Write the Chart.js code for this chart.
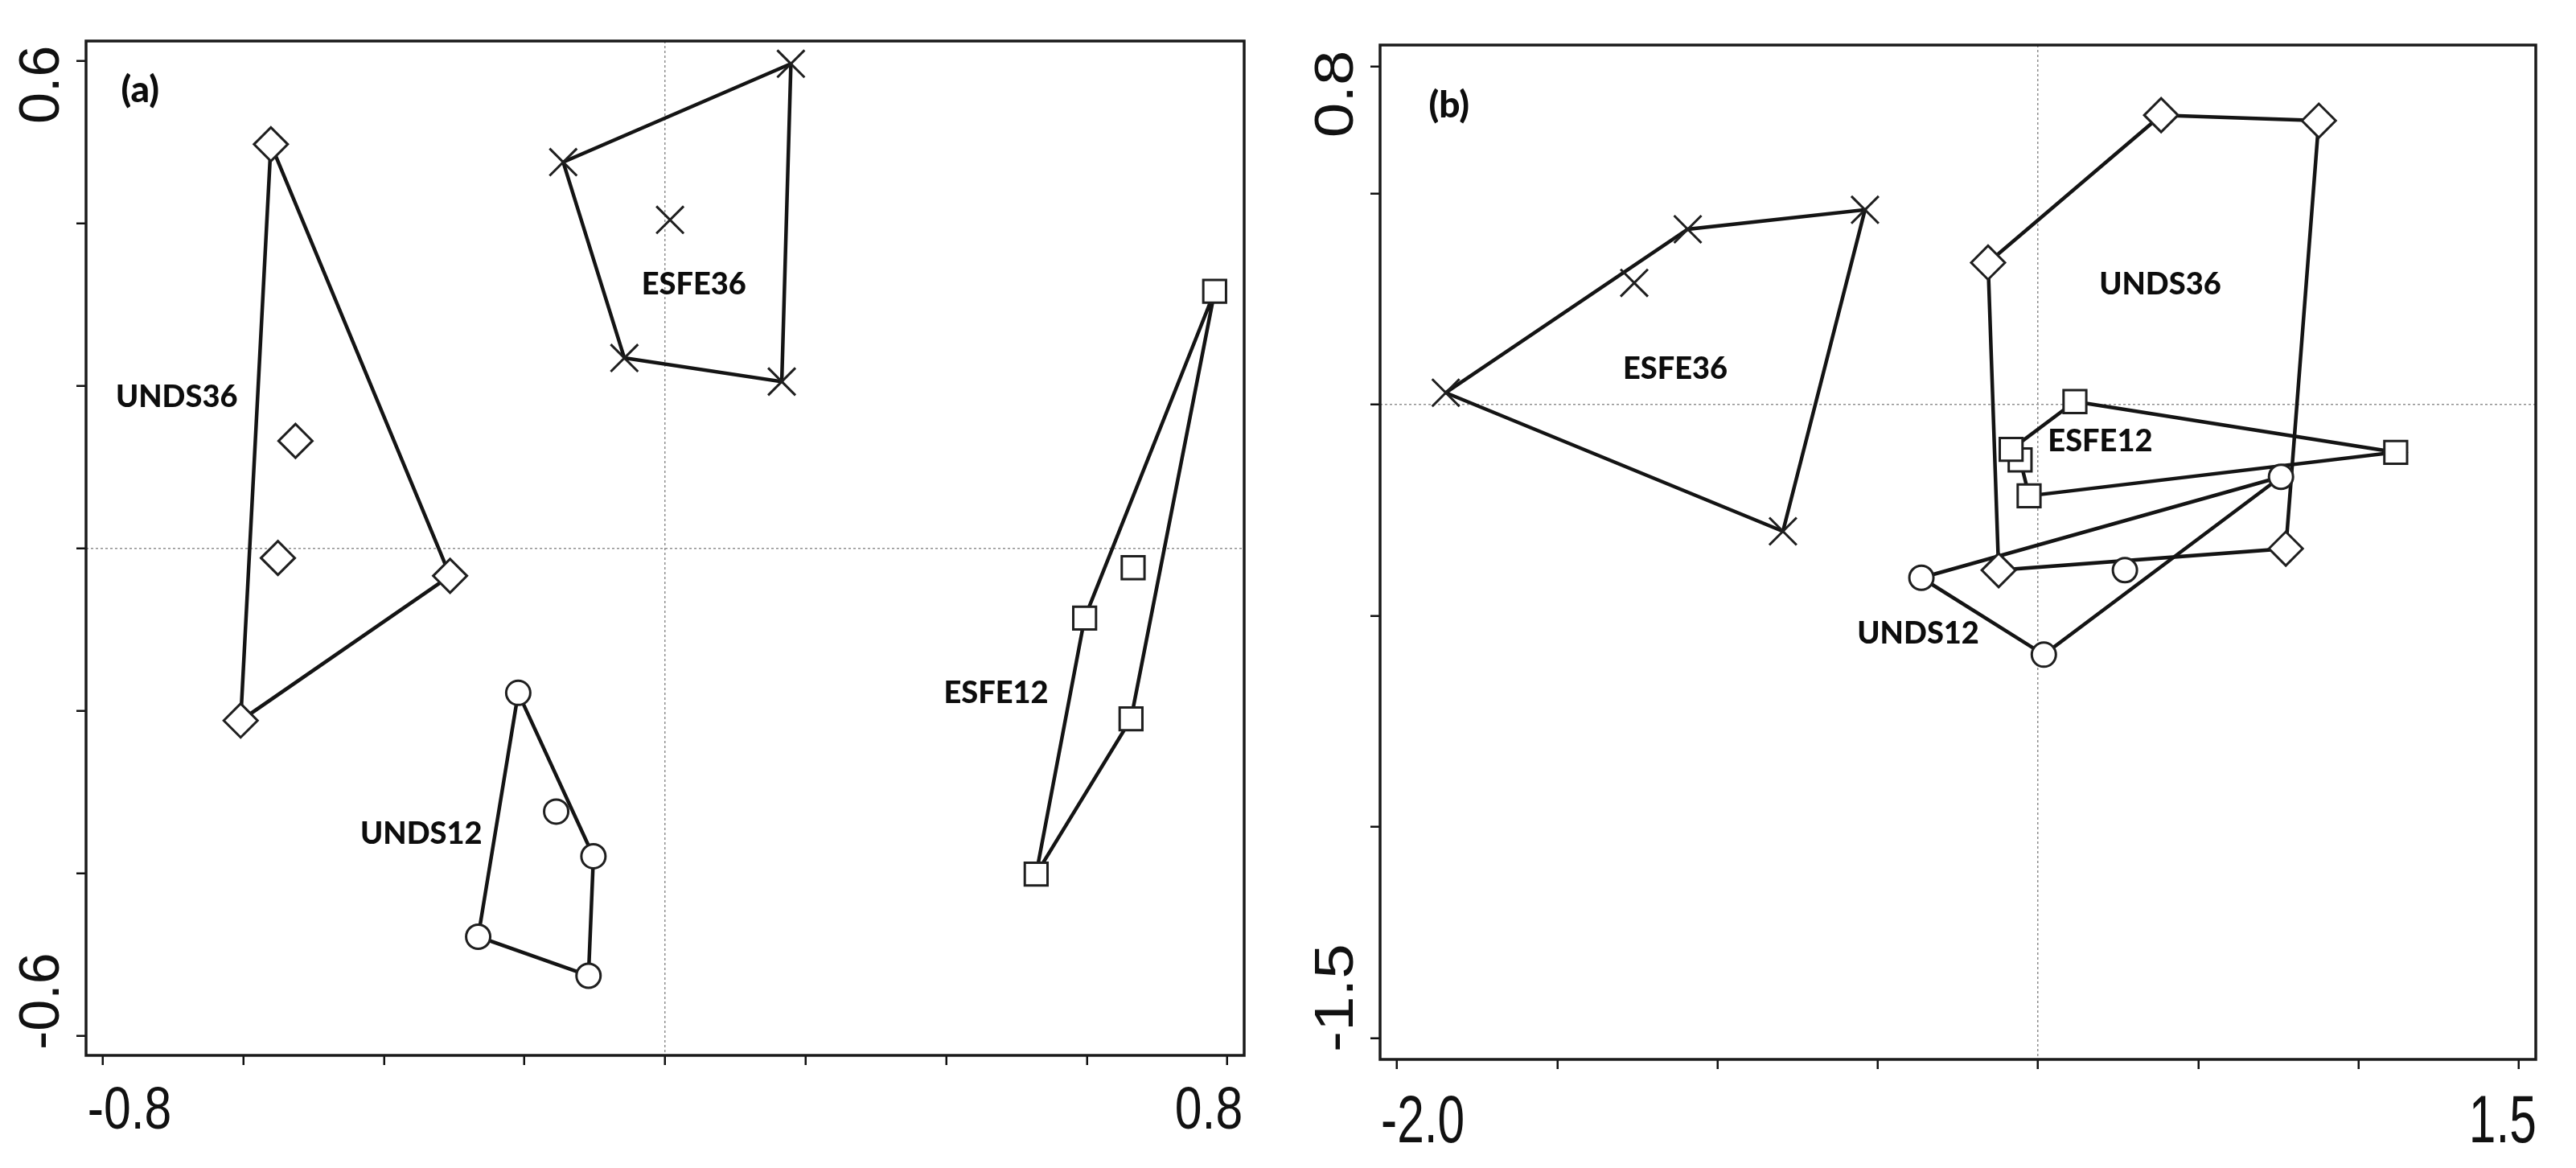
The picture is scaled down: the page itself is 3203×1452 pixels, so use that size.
<!DOCTYPE html>
<html>
<head>
<meta charset="utf-8">
<script src="https://cdn.jsdelivr.net/npm/chart.js@4.4.0/dist/chart.umd.min.js"></script>
<style>
  html, body { margin: 0; padding: 0; background: #fff; }
  body { width: 3203px; height: 1452px; position: relative; overflow: hidden; }
  canvas { position: absolute; top: 0; }
  #chartA { left: 0; }
  #chartB { left: 1600px; }
</style>
</head>
<body>
<canvas id="chartA" width="1600" height="1452"></canvas>
<canvas id="chartB" width="1603" height="1452"></canvas>
<script>
// ---------- panel (a) ----------
const unds36A_x = [-0.561, -0.306, -0.604, -0.526, -0.551];
const unds36A_y = [0.497, -0.034, -0.212, 0.132, -0.012];
const unds36A_hull = [0, 1, 2];

const esfe36A_x = [0.179, -0.145, -0.058, 0.166, 0.007];
const esfe36A_y = [0.596, 0.475, 0.234, 0.205, 0.404];
const esfe36A_hull = [0, 1, 2, 3];

const esfe12A_x = [0.782, 0.597, 0.528, 0.663, 0.666];
const esfe12A_y = [0.316, -0.086, -0.401, -0.210, -0.024];
const esfe12A_hull = [0, 1, 2, 3];

const unds12A_x = [-0.209, -0.102, -0.109, -0.266, -0.155];
const unds12A_y = [-0.178, -0.379, -0.526, -0.478, -0.324];
const unds12A_hull = [0, 1, 2, 3];

const xTicksA = [-0.8, -0.6, -0.4, -0.2, 0, 0.2, 0.4, 0.6, 0.8];
const yTicksA = [-0.6, -0.4, -0.2, 0, 0.2, 0.4, 0.6];
const xTickLabelsA = [-0.8, 0.8];
const yTickLabelsA = [-0.6, 0.6];

const groupNamesA = ['UNDS36', 'ESFE36', 'ESFE12', 'UNDS12'];
const groupLabelXA = [-0.695, 0.041, 0.471, -0.347];
const groupLabelYA = [0.186, 0.324, -0.178, -0.352];

// ---------- panel (b) ----------
const esfe36B_x = [-1.848, -1.093, -0.540, -0.796, -1.260];
const esfe36B_y = [0.028, 0.415, 0.461, -0.300, 0.288];
const esfe36B_hull = [0, 1, 2, 3];

const unds36B_x = [0.384, 0.876, 0.773, -0.123, -0.156];
const unds36B_y = [0.685, 0.672, -0.341, -0.392, 0.336];
const unds36B_hull = [0, 1, 2, 3, 4];

const esfe12B_x = [0.115, 1.116, -0.028, -0.056, -0.084];
const esfe12B_y = [0.007, -0.113, -0.216, -0.131, -0.106];
const esfe12B_hull = [0, 1, 2, 3, 4];

const unds12B_x = [-0.364, 0.758, 0.018, 0.271];
const unds12B_y = [-0.410, -0.171, -0.592, -0.392];
const unds12B_hull = [0, 1, 2];

const xTicksB = [-2.0, -1.5, -1.0, -0.5, 0, 0.5, 1.0, 1.5];
const yTicksB = [-1.5, -1.0, -0.5, 0, 0.5, 0.8];
const xTickLabelsB = [-2.0, 1.5];
const yTickLabelsB = [-1.5, 0.8];

const groupNamesB = ['UNDS36', 'ESFE36', 'ESFE12', 'UNDS12'];
const groupLabelXB = [0.381, -1.132, 0.194, -0.374];
const groupLabelYB = [0.284, 0.085, -0.087, -0.543];

// marker look per group
const markers = {
    UNDS36: { pointStyle: 'rectRot', radius: 21 },
    ESFE36: { pointStyle: 'crossRot', radius: 24 },
    ESFE12: { pointStyle: 'rect', radius: 20 },
    UNDS12: { pointStyle: 'circle', radius: 15 }
};

function groupDatasets(name, xs, ys, hull) {
    const pts = xs.map((v, i) => ({ x: v, y: ys[i] }));
    const ring = hull.map(i => pts[i]);
    ring.push(pts[hull[0]]);
    const m = markers[name];
    return [
        {
            label: name + ' hull',
            data: ring,
            showLine: true,
            borderColor: '#141414',
            borderWidth: 4.5,
            pointRadius: 0,
            tension: 0,
            fill: false,
            order: 2
        },
        {
            label: name,
            data: pts,
            showLine: false,
            pointStyle: m.pointStyle,
            pointRadius: m.radius,
            pointBackgroundColor: '#ffffff',
            pointBorderColor: '#1f1f1f',
            pointBorderWidth: 3,
            clip: false,
            order: 1
        }
    ];
}

function makeScales(xMin, xMax, yMin, yMax, xTicks, yTicks) {
    const grid = {
        drawOnChartArea: true,
        color: c => (c.tick && c.tick.value === 0) ? '#8f8f8f' : 'rgba(0,0,0,0)',
        lineWidth: 1.5,
        drawTicks: true,
        tickLength: 12,
        tickColor: '#111',
        tickWidth: 2.5
    };
    return {
        x: {
            type: 'linear', min: xMin, max: xMax,
            afterBuildTicks: s => { s.ticks = xTicks.map(v => ({ value: v })); },
            afterFit: s => { s.height = 100; },
            ticks: { display: false },
            grid: grid,
            border: { display: false, dash: [3, 3] }
        },
        y: {
            type: 'linear', min: yMin, max: yMax,
            afterBuildTicks: s => { s.ticks = yTicks.map(v => ({ value: v })); },
            afterFit: s => { s.width = 60; },
            ticks: { display: false },
            grid: grid,
            border: { display: false, dash: [3, 3] }
        }
    };
}

// frame, tick labels and group names
const decor = {
    id: 'decor',
    afterDatasetsDraw(chart, args, o) {
        const { ctx, scales: { x, y } } = chart;
        ctx.save();
        ctx.fillStyle = '#0d0d0d';
        ctx.textAlign = 'center';
        ctx.textBaseline = 'middle';
        ctx.font = '900 ' + o.groupSize + 'px Lato, "Open Sans", sans-serif';
        o.names.forEach((n, i) => {
            ctx.fillText(n, x.getPixelForValue(o.namesX[i]), y.getPixelForValue(o.namesY[i]));
        });
        ctx.font = '900 ' + o.panelSize + 'px Lato, "Open Sans", sans-serif';
        ctx.fillText(o.panel, x.getPixelForValue(o.panelX), y.getPixelForValue(o.panelY));
        ctx.restore();
    },
    afterDraw(chart, args, o) {
        const { ctx, chartArea: a, scales: { x, y } } = chart;
        ctx.save();
        ctx.strokeStyle = '#1a1a1a';
        ctx.lineWidth = 3.5;
        ctx.strokeRect(a.left, a.top, a.right - a.left, a.bottom - a.top);

        ctx.fillStyle = '#111';
        ctx.textAlign = 'center';
        ctx.textBaseline = 'alphabetic';
        ctx.font = o.xSize + 'px "Liberation Sans", Arial, sans-serif';
        o.xLabels.forEach((v, i) => {
            ctx.save();
            ctx.translate(x.getPixelForValue(v) + o.xShift[i], a.bottom + o.xBase);
            ctx.scale(o.xStretch, 1);
            ctx.fillText(v.toFixed(1), 0, 0);
            ctx.restore();
        });
        ctx.font = o.ySize + 'px "Liberation Sans", Arial, sans-serif';
        o.yLabels.forEach((v, i) => {
            ctx.save();
            ctx.translate(a.left + o.yBase, y.getPixelForValue(v) + o.yShift[i]);
            ctx.rotate(-Math.PI / 2);
            ctx.scale(o.yStretch, 1);
            ctx.fillText(v.toFixed(1), 0, 0);
            ctx.restore();
        });
        ctx.restore();
    }
};

function makeChart(id, datasets, scales, padding, decorOpts) {
    return new Chart(document.getElementById(id), {
        type: 'scatter',
        data: { datasets: datasets },
        options: {
            responsive: false,
            animation: false,
            events: [],
            layout: { padding: padding, autoPadding: false },
            scales: scales,
            plugins: {
                legend: { display: false },
                tooltip: { enabled: false },
                decor: decorOpts
            }
        },
        plugins: [decor]
    });
}

const datasetsA = [].concat(
    groupDatasets('UNDS36', unds36A_x, unds36A_y, unds36A_hull),
    groupDatasets('ESFE36', esfe36A_x, esfe36A_y, esfe36A_hull),
    groupDatasets('ESFE12', esfe12A_x, esfe12A_y, esfe12A_hull),
    groupDatasets('UNDS12', unds12A_x, unds12A_y, unds12A_hull)
);

const datasetsB = [].concat(
    groupDatasets('ESFE36', esfe36B_x, esfe36B_y, esfe36B_hull),
    groupDatasets('UNDS36', unds36B_x, unds36B_y, unds36B_hull),
    groupDatasets('ESFE12', esfe12B_x, esfe12B_y, esfe12B_hull),
    groupDatasets('UNDS12', unds12B_x, unds12B_y, unds12B_hull)
);

makeChart('chartA', datasetsA,
    makeScales(-0.824, 0.824, -0.624, 0.624, xTicksA, yTicksA),
    { left: 47, top: 51, right: 53, bottom: 40 },
    {
        names: groupNamesA, namesX: groupLabelXA, namesY: groupLabelYA, groupSize: 38,
        panel: '(a)', panelX: -0.747, panelY: 0.563, panelSize: 46,
        xLabels: xTickLabelsA, xShift: [33, -23], xBase: 91, xSize: 74, xStretch: 0.82,
        yLabels: yTickLabelsA, yShift: [-43, 30], yBase: -34, ySize: 70, yStretch: 1.0
    });

makeChart('chartB', datasetsB,
    makeScales(-2.053, 1.553, -1.550, 0.851, xTicksB, yTicksB),
    { left: 56, top: 56, right: 50, bottom: 35 },
    {
        names: groupNamesB, namesX: groupLabelXB, namesY: groupLabelYB, groupSize: 38,
        panel: '(b)', panelX: -1.838, panelY: 0.708, panelSize: 46,
        xLabels: xTickLabelsB, xShift: [32, -20], xBase: 103, xSize: 84, xStretch: 0.72,
        yLabels: yTickLabelsB, yShift: [-50, 34], yBase: -34, ySize: 68, yStretch: 1.15
    });
</script>
</body>
</html>
